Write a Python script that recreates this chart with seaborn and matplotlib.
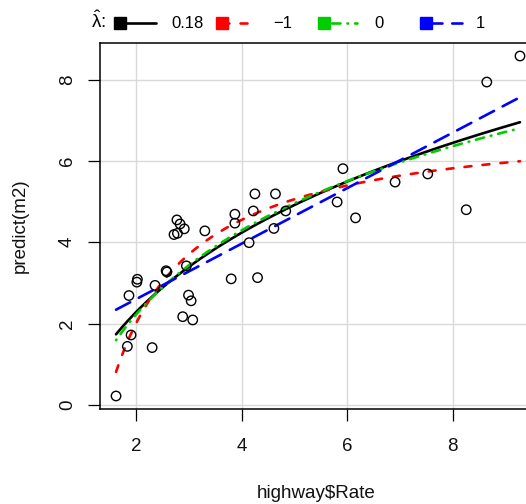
import numpy as np
import pandas as pd
import matplotlib
matplotlib.use("Agg")
import matplotlib.pyplot as plt
from matplotlib.lines import Line2D
import seaborn as sns

# ---- data ----
rate = [1.615, 1.90, 1.83, 2.30, 2.88, 3.07, 2.77, 2.83, 2.91, 2.715,
        2.78, 3.30, 2.02, 2.01, 1.86, 2.355, 2.565, 2.58, 2.95, 2.99,
        3.04, 4.25, 4.64, 3.87, 3.87, 4.22, 4.835, 4.61, 4.14, 3.80,
        4.30, 5.92, 6.91, 7.53, 5.81, 6.16, 9.28, 8.65, 8.26]
pred = [0.22, 1.72, 1.44, 1.41, 2.17, 2.09, 4.55, 4.45, 4.33, 4.19,
        4.22, 4.28, 3.09, 3.02, 2.69, 2.94, 3.30, 3.27, 3.42, 2.70,
        2.56, 5.19, 5.19, 4.69, 4.47, 4.77, 4.77, 4.34, 3.99, 3.10,
        3.13, 5.81, 5.48, 5.68, 4.99, 4.60, 8.58, 7.94, 4.80]
lambdas = [0.18, -1, 0, 1]
legend_labels = ["0.18", "\u22121", "0", "1"]
colors = ["black", "#FF0000", "#00CD00", "#0000FF"]
x_ticks = [2, 4, 6, 8]
y_ticks = [0, 2, 4, 6, 8]

sns.set_theme(style="white")
plt.rcParams["font.family"] = ["Liberation Sans", "DejaVu Sans"]
plt.rcParams["lines.scale_dashes"] = False
plt.rcParams["mathtext.fontset"] = "custom"
plt.rcParams["mathtext.rm"] = "Liberation Sans"
plt.rcParams["mathtext.it"] = "Liberation Sans"

W, H = 526, 504
fig = plt.figure(figsize=(W / 100, H / 100), dpi=100)
fig.patch.set_facecolor("white")

def fx(px):
    return px / W

def fy(py):
    return 1 - py / H

# axes box (extends slightly past the right edge like the reference)
xlo, xhi = 1.303, 9.587
ylo, yhi = -0.10, 8.90
left_px, right_px = 99.6, 99.6 + (xhi - xlo) * 52.7
top_px, bot_px = 43, 409
ax = fig.add_axes([fx(left_px), fy(bot_px), (right_px - left_px) / W, (bot_px - top_px) / H])
ax.set_facecolor("white")

df = pd.DataFrame({"rate": rate, "pred": pred})

# fitted inverse-response curves: pred ~ a + b * t_lambda(rate)
def bc(v, lam):
    v = np.asarray(v, dtype=float)
    return np.log(v) if lam == 0 else (v ** lam - 1) / lam

xs = np.linspace(min(rate), max(rate), 300)
styles = [
    "-",
    (0, (5.0, 8.0)),
    (0, (0.5, 5.0, 6.0, 5.0)),
    (0, (11.5, 7.0)),
]
for lam, col, ls in zip(lambdas, colors, styles):
    b, a = np.polyfit(bc(rate, lam), pred, 1)
    fit_df = pd.DataFrame({"x": xs, "y": a + b * bc(xs, lam)})
    sns.lineplot(data=fit_df, x="x", y="y", ax=ax, color=col, linewidth=1.9,
                 linestyle=ls, estimator=None, sort=False,
                 dash_capstyle="round", solid_capstyle="round", zorder=3)

sns.scatterplot(data=df, x="rate", y="pred", ax=ax, marker="o", s=46,
                facecolor="none", edgecolor="black", linewidth=1.0, zorder=4)

ax.set_xlim(xlo, xhi)
ax.set_ylim(ylo, yhi)
ax.set_xticks(x_ticks)
ax.set_yticks(y_ticks)
ax.grid(True, color="#D9D9D9", linewidth=1.0)
ax.set_axisbelow(True)
for sp in ax.spines.values():
    sp.set_visible(True)
    sp.set_color("black")
    sp.set_linewidth(1.1)

ax.tick_params(axis="both", which="major", direction="out", length=8.5,
               width=0.9, color="black", labelsize=13.5, labelcolor="#111111",
               bottom=True, left=True)
ax.tick_params(axis="x", pad=12.5)
ax.tick_params(axis="y", pad=8.5, labelrotation=90)
for lab in ax.get_yticklabels():
    lab.set_va("center")

ax.set_xlabel("")
ax.set_ylabel("")
fig.text(fx(316.5), fy(493), "highway$Rate", ha="center", va="center",
         fontsize=13.5, color="#111111")
fig.text(fx(20.5), fy(226), "predict(m2)", ha="center", va="center",
         rotation=90, fontsize=13.5, color="#111111")

# ---- legend across the top ----
ly = fy(23)
fig.text(fx(91), fy(21), r"$\hat{\mathrm{\lambda}}$:", ha="left", va="center",
         fontsize=13.5, color="black")
entries = [(120.3, 156, 171), (222, 255, 273), (323.5, 357, 374), (425.5, 462, 476)]
for (sqx, lend, tx), col, ls, lab in zip(entries, colors, styles, legend_labels):
    fig.add_artist(Line2D([fx(sqx), fx(lend)], [ly, ly], transform=fig.transFigure,
                          color=col, linewidth=1.9, linestyle=ls,
                          dash_capstyle="round", solid_capstyle="round"))
    fig.add_artist(Line2D([fx(sqx)], [ly], transform=fig.transFigure,
                          marker="s", markersize=9, color=col, linestyle="none"))
    fig.text(fx(tx), ly, lab, ha="left", va="center", fontsize=12, color="black")

fig.savefig("out.png", dpi=100, facecolor="white")
